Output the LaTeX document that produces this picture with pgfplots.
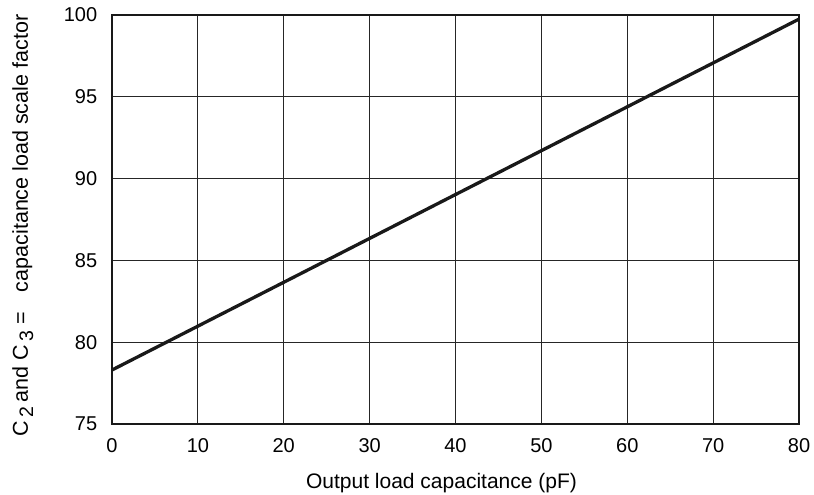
\documentclass[border=0pt]{standalone}
\usepackage{fontspec}
\setmainfont{Liberation Sans}
\usepackage{pgfplots}
\pgfplotsset{compat=1.18}
\begin{document}
\fontsize{20bp}{24bp}\selectfont
\begin{tikzpicture}
\useasboundingbox (-112bp,-71bp) rectangle (702bp,424bp);
\begin{axis}[
  at={(0,0)}, anchor=south west,
  scale only axis,
  width=687bp, height=409bp,
  xmin=0, xmax=80, ymin=75, ymax=100,
  xtick={0,10,...,80}, ytick={75,80,...,100},
  grid=major,
  major grid style={line width=1.1bp, black!85},
  axis line style={line width=2.3bp, black!90},
  tick style={draw=none},
  /pgf/number format/assume math mode=true,
  ticklabel style={font=\fontsize{20bp}{24bp}\selectfont},
  xticklabel style={yshift=-8bp},
  yticklabel style={xshift=-8bp},
  xlabel={Output load capacitance (pF)},
  ylabel={C\,\raisebox{-0.45ex}{\fontsize{19.5bp}{22bp}\selectfont 2}\,and C\,\raisebox{-0.45ex}{\fontsize{19.5bp}{22bp}\selectfont 3} =\enspace\, capacitance load scale factor},
  xlabel style={font=\fontsize{21bp}{25bp}\selectfont, yshift=-7bp, xshift=-14bp},
  ylabel style={font=\fontsize{21.5bp}{25bp}\selectfont, yshift=17bp, xshift=-6bp},
]
\addplot[line width=3.3bp, black!90] coordinates {(0,78.3) (80,99.75)};
\end{axis}
\end{tikzpicture}
\end{document}
